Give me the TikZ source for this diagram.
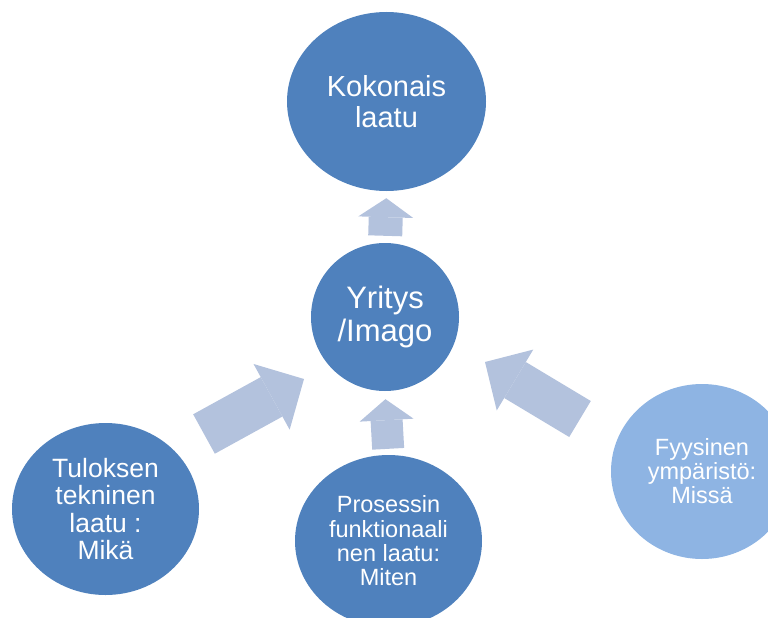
\documentclass[tikz,border=0pt]{standalone}
\usepackage{fontspec}
\setmainfont{Liberation Sans}
\usetikzlibrary{shapes.geometric, arrows.meta}
\definecolor{circleblue}{RGB}{79,129,189}
\definecolor{lightcircle}{RGB}{142,180,227}
\definecolor{arrowblue}{RGB}{179,194,221}

\begin{document}
\begin{tikzpicture}[x=1pt, y=-1pt,
    bubble/.style={ellipse, fill=circleblue, text=white, inner sep=0pt, align=center},
    blockarrow/.style n args={3}{draw=arrowblue, line width=#1,
        -{Triangle[length=#2, width=#3, line width=0pt]}}]
    \useasboundingbox (0,0) rectangle (768,618);
    \clip (0,0) rectangle (768,618);

    % Circles
    \node[bubble, minimum width=199pt, minimum height=179pt,
        font=\fontsize{29}{31}\selectfont] (total) at (386.5,101.5) {Kokonais\\laatu};
    \node[bubble, minimum width=148pt, minimum height=148pt,
        font=\fontsize{31}{33}\selectfont] (imago) at (385,317) {Yritys\\/Imago};
    \node[bubble, minimum width=187pt, minimum height=172pt,
        font=\fontsize{26.5}{27.5}\selectfont] (technical) at (105.5,509)
        {Tuloksen\\tekninen\\laatu :\\Mikä};
    \node[bubble, minimum width=187pt, minimum height=172pt,
        font=\fontsize{23.5}{24.3}\selectfont] (process) at (388.5,541)
        {Prosessin\\funktionaali\\nen laatu:\\Miten};
    \node[bubble, fill=lightcircle, minimum width=182pt, minimum height=175pt,
        font=\fontsize{23.5}{24}\selectfont] (physical) at (702,471.5)
        {Fyysinen\\ympäristö:\\Missä};

    % Arrows
    \coordinate (lefttail) at (204,434);
    \coordinate (lefttip) at (304,379);
    \coordinate (righttail) at (580,419);
    \coordinate (righttip) at (485,362);
    \draw[blockarrow={34pt}{19pt}{55pt}, shorten <=7pt, shorten >=7pt] (imago.north) -- (total.south);
    \draw[blockarrow={32pt}{21pt}{54pt}, shorten <=6pt, shorten >=8pt] (process.north) -- (imago.south);
    \draw[blockarrow={45pt}{37pt}{75pt}] (lefttail) -- (lefttip);
    \draw[blockarrow={42pt}{35pt}{71pt}] (righttail) -- (righttip);
\end{tikzpicture}
\end{document}
